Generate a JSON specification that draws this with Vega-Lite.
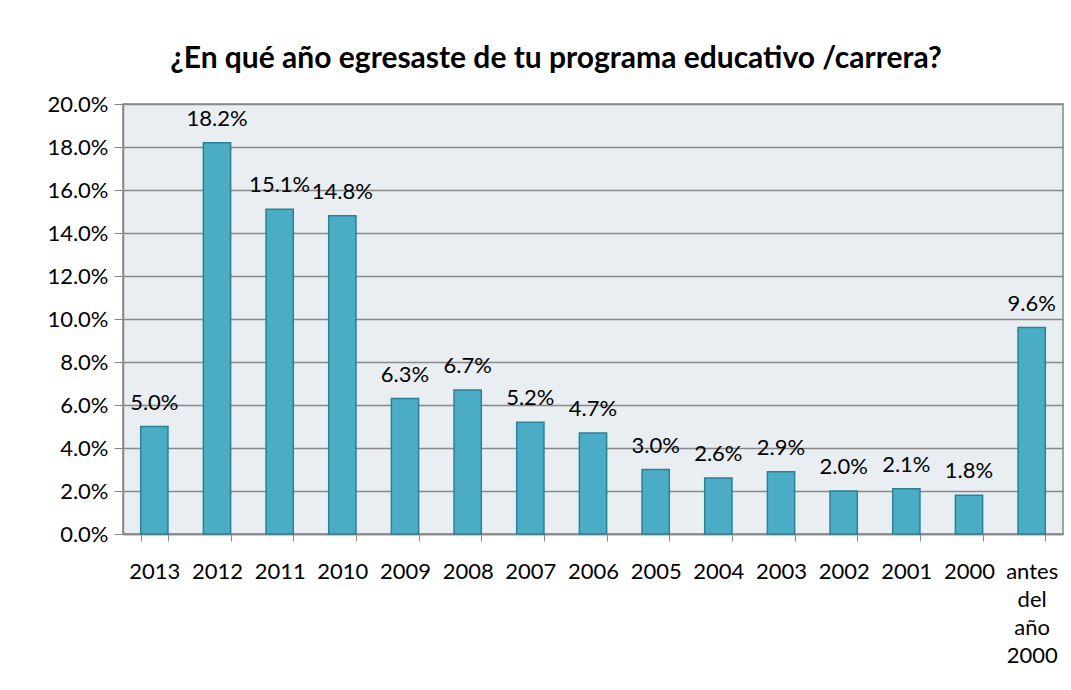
{
  "$schema": "https://vega.github.io/schema/vega-lite/v6.json",
  "width": 940,
  "height": 430,
  "padding": {"left": 46, "top": 44, "right": 9, "bottom": 0},
  "background": "white",
  "title": {
    "text": "¿En qué año egresaste de tu programa educativo /carrera?",
    "font": "Lato",
    "fontSize": 30,
    "fontWeight": "bold",
    "color": "#000000",
    "anchor": "middle",
    "dx": -37,
    "offset": 19
  },
  "data": {
    "values": [
      {"year": "2013", "pct": 0.050},
      {"year": "2012", "pct": 0.182},
      {"year": "2011", "pct": 0.151},
      {"year": "2010", "pct": 0.148},
      {"year": "2009", "pct": 0.063},
      {"year": "2008", "pct": 0.067},
      {"year": "2007", "pct": 0.052},
      {"year": "2006", "pct": 0.047},
      {"year": "2005", "pct": 0.030},
      {"year": "2004", "pct": 0.026},
      {"year": "2003", "pct": 0.029},
      {"year": "2002", "pct": 0.020},
      {"year": "2001", "pct": 0.021},
      {"year": "2000", "pct": 0.018},
      {"year": "antes del año 2000", "pct": 0.096}
    ]
  },
  "encoding": {
    "x": {
      "field": "year",
      "type": "nominal",
      "sort": null,
      "scale": {"paddingInner": 0.565, "paddingOuter": 0.2825},
      "axis": {
        "title": null,
        "labelAngle": 0,
        "labelFont": "Lato",
        "labelFontSize": 22,
        "labelColor": "#000000",
        "labelPadding": 20,
        "labelLimit": 0,
        "labelLineHeight": 28,
        "labelOverlap": false,
        "labelExpr": "datum.label == 'antes del año 2000' ? ['antes', 'del', 'año', '2000'] : datum.label",
        "tickBand": "extent",
        "tickSize": 7,
        "tickColor": "#888888",
        "domainColor": "#888888",
        "domainWidth": 1.5
      }
    },
    "y": {
      "field": "pct",
      "type": "quantitative",
      "scale": {"domain": [0, 0.2], "nice": false},
      "axis": {
        "title": null,
        "format": ".1%",
        "values": [0, 0.02, 0.04, 0.06, 0.08, 0.1, 0.12, 0.14, 0.16, 0.18, 0.2],
        "labelFont": "Lato",
        "labelFontSize": 22,
        "labelColor": "#000000",
        "labelPadding": 6,
        "labelOverlap": false,
        "labelFlush": false,
        "tickSize": 9,
        "tickColor": "#888888",
        "gridColor": "#888888",
        "gridWidth": 1.5,
        "domainColor": "#888888",
        "domainWidth": 1.5
      }
    }
  },
  "layer": [
    {
      "mark": {"type": "bar", "color": "#4BACC6", "stroke": "#2F7F95", "strokeWidth": 1.5}
    },
    {
      "mark": {"type": "text", "font": "Lato", "fontSize": 22, "color": "#000000", "baseline": "bottom", "dy": -12},
      "encoding": {
        "text": {"field": "pct", "type": "quantitative", "format": ".1%"}
      }
    }
  ],
  "config": {
    "view": {"fill": "#E8EEF2", "stroke": "#888888", "strokeWidth": 1.5}
  }
}
